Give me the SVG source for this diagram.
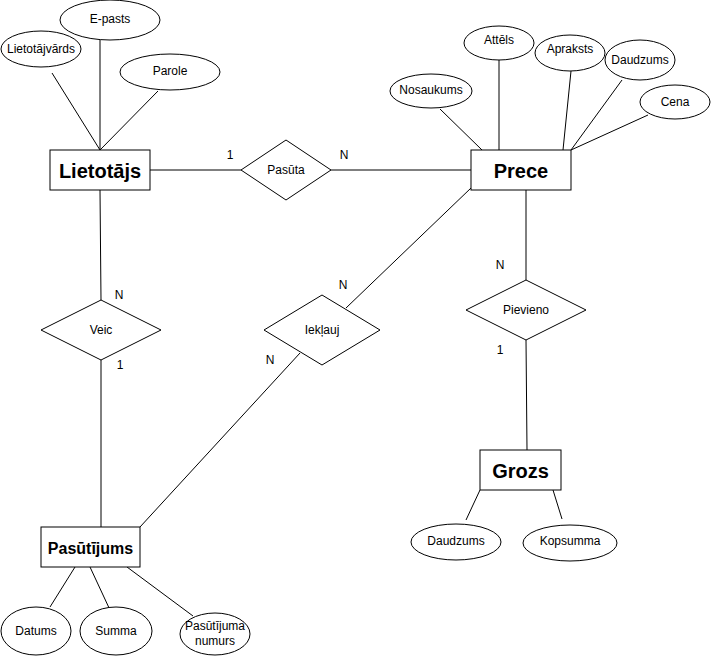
<svg xmlns="http://www.w3.org/2000/svg" width="711" height="656" viewBox="0 0 711 656">
<style>
  .ln { stroke: #000; stroke-width: 1; fill: none; }
  .shape { fill: #fff; stroke: #000; stroke-width: 1; }
  .t { font-family: "Liberation Sans", Arial, sans-serif; font-size: 12px; fill: #000; text-anchor: middle; dominant-baseline: central; }
  .ent { font-family: "Liberation Sans", Arial, sans-serif; font-size: 20px; font-weight: bold; fill: #000; text-anchor: middle; dominant-baseline: central; }
  .card { font-family: "Liberation Sans", Arial, sans-serif; font-size: 12px; fill: #000; text-anchor: middle; dominant-baseline: central; }
</style>
<rect width="711" height="656" fill="#fff"/>

<!-- connectors -->
<g id="connectors">
  <!-- Lietotājs attributes -->
  <line class="ln" x1="100" y1="40" x2="100" y2="150"/>
  <line class="ln" x1="52" y1="73" x2="100" y2="150"/>
  <line class="ln" x1="158" y1="91" x2="100" y2="150"/>
  <!-- Prece attributes -->
  <line class="ln" x1="440" y1="109" x2="482" y2="150"/>
  <line class="ln" x1="499" y1="60" x2="499" y2="150"/>
  <line class="ln" x1="571" y1="71" x2="563" y2="150"/>
  <line class="ln" x1="622" y1="80" x2="571" y2="150"/>
  <line class="ln" x1="648" y1="115" x2="571" y2="150"/>
  <!-- Lietotājs - Pasūta - Prece -->
  <line class="ln" x1="150" y1="170" x2="241" y2="170"/>
  <line class="ln" x1="331" y1="170" x2="471" y2="170"/>
  <!-- Lietotājs - Veic - Pasūtījums -->
  <line class="ln" x1="100" y1="190" x2="101" y2="300"/>
  <line class="ln" x1="101" y1="360" x2="101" y2="527"/>
  <!-- Prece - Iekļauj - Pasūtījums -->
  <line class="ln" x1="471" y1="188" x2="346" y2="308"/>
  <line class="ln" x1="300" y1="353" x2="140" y2="527"/>
  <!-- Prece - Pievieno - Grozs -->
  <line class="ln" x1="526" y1="190" x2="526" y2="280"/>
  <line class="ln" x1="526" y1="340" x2="527" y2="450"/>
  <!-- Grozs attributes -->
  <line class="ln" x1="466" y1="520" x2="480" y2="490"/>
  <line class="ln" x1="562" y1="519" x2="553" y2="490"/>
  <!-- Pasūtījums attributes -->
  <line class="ln" x1="50" y1="607" x2="75" y2="567"/>
  <line class="ln" x1="110" y1="610" x2="90" y2="567"/>
  <line class="ln" x1="193" y1="616" x2="127" y2="567"/>
</g>

<!-- cardinality labels -->
<g id="cardinalities">
  <text class="card" x="230" y="155">1</text>
  <text class="card" x="344" y="155">N</text>
  <text class="card" x="119" y="295">N</text>
  <text class="card" x="120" y="365">1</text>
  <text class="card" x="343" y="285">N</text>
  <text class="card" x="270" y="360">N</text>
  <text class="card" x="500" y="265">N</text>
  <text class="card" x="500" y="350">1</text>
</g>

<!-- entities -->
<g id="lietotajs">
  <rect class="shape" x="50" y="150" width="100" height="40"/>
  <text class="ent" x="100" y="171">Lietotājs</text>
</g>
<g id="prece">
  <rect class="shape" x="471" y="150" width="100" height="40"/>
  <text class="ent" x="521" y="171">Prece</text>
</g>
<g id="grozs">
  <rect class="shape" x="480" y="450" width="81" height="40"/>
  <text class="ent" x="520.5" y="471">Grozs</text>
</g>
<g id="pasutijums">
  <rect class="shape" x="41" y="527" width="99" height="40"/>
  <text class="ent" x="90.5" y="548" style="font-size:16px">Pasūtījums</text>
</g>

<!-- relationships -->
<g id="pasuta">
  <polygon class="shape" points="286,140 331,170 286,200 241,170"/>
  <text class="t" x="286" y="170">Pasūta</text>
</g>
<g id="veic">
  <polygon class="shape" points="101,300 161,330 101,360 41,330"/>
  <text class="t" x="101" y="330">Veic</text>
</g>
<g id="ieklauj">
  <polygon class="shape" points="322,295 380,330 322,365 264,330"/>
  <text class="t" x="322" y="330">Iekļauj</text>
</g>
<g id="pievieno">
  <polygon class="shape" points="526,280 586,310 526,340 466,310"/>
  <text class="t" x="526" y="310">Pievieno</text>
</g>

<!-- attributes -->
<g id="attr-lietotajvards">
  <ellipse class="shape" cx="41" cy="49" rx="40" ry="18"/>
  <text class="t" x="41" y="49">Lietotājvārds</text>
</g>
<g id="attr-epasts">
  <ellipse class="shape" cx="110" cy="20" rx="50" ry="20"/>
  <text class="t" x="110" y="19">E-pasts</text>
</g>
<g id="attr-parole">
  <ellipse class="shape" cx="170" cy="72" rx="50" ry="18"/>
  <text class="t" x="170" y="71">Parole</text>
</g>
<g id="attr-nosaukums">
  <ellipse class="shape" cx="431" cy="91" rx="41" ry="17"/>
  <text class="t" x="431" y="90">Nosaukums</text>
</g>
<g id="attr-attels">
  <ellipse class="shape" cx="499" cy="43" rx="35" ry="17"/>
  <text class="t" x="499" y="40">Attēls</text>
</g>
<g id="attr-apraksts">
  <ellipse class="shape" cx="570" cy="53" rx="35" ry="18"/>
  <text class="t" x="570" y="49">Apraksts</text>
</g>
<g id="attr-daudzums-prece">
  <ellipse class="shape" cx="640" cy="60" rx="35" ry="20"/>
  <text class="t" x="640" y="60">Daudzums</text>
</g>
<g id="attr-cena">
  <ellipse class="shape" cx="675" cy="102" rx="35" ry="17"/>
  <text class="t" x="675" y="102">Cena</text>
</g>
<g id="attr-daudzums-grozs">
  <ellipse class="shape" cx="456" cy="542" rx="45" ry="18"/>
  <text class="t" x="456" y="541">Daudzums</text>
</g>
<g id="attr-kopsumma">
  <ellipse class="shape" cx="570" cy="543" rx="47" ry="18"/>
  <text class="t" x="570" y="541">Kopsumma</text>
</g>
<g id="attr-datums">
  <ellipse class="shape" cx="36" cy="631" rx="35" ry="24"/>
  <text class="t" x="36" y="631">Datums</text>
</g>
<g id="attr-summa">
  <ellipse class="shape" cx="116" cy="631" rx="36" ry="24"/>
  <text class="t" x="116" y="631">Summa</text>
</g>
<g id="attr-pasutijuma-numurs">
  <ellipse class="shape" cx="215" cy="634" rx="35" ry="21"/>
  <text class="t" x="215" y="626">Pasūtījuma</text>
  <text class="t" x="215" y="641">numurs</text>
</g>
</svg>
